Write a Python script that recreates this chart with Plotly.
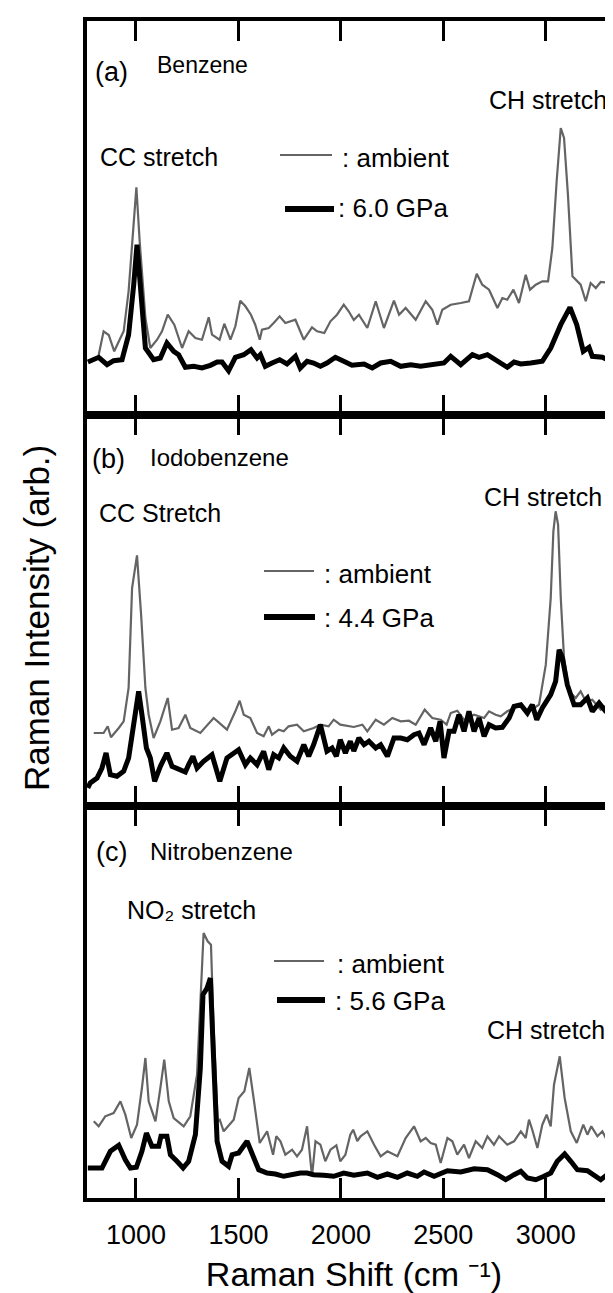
import plotly.graph_objects as go

# ---------------- data (Raman shift in cm^-1, intensity in arb. units) ----------------
benz_amb_x = [818, 842, 867, 894, 924, 940, 964, 989, 1002, 1018, 1046, 1070, 1103, 1127, 1155, 1187,
              1225, 1257, 1290, 1322, 1355, 1371, 1408, 1431, 1461, 1485, 1509, 1534, 1561, 1582, 1604,
              1615, 1648, 1672, 1701, 1729, 1778, 1819, 1859, 1884, 1919, 1949, 1981, 2014, 2038, 2063,
              2088, 2129, 2170, 2210, 2259, 2284, 2316, 2365, 2414, 2446, 2471, 2495, 2536, 2585, 2625,
              2663, 2690, 2723, 2764, 2788, 2812, 2842, 2869, 2902, 2923, 2951, 2983, 3011, 3032, 3053,
              3073, 3089, 3108, 3130, 3170, 3195, 3219, 3244, 3268, 3317, 3349, 3366]
benz_amb_y = [60, 83.7, 80, 63.7, 77, 83.7, 123.7, 190, 227.7, 173.7, 97, 67, 75.3, 83.7, 100.3, 90.3,
              67, 83.7, 77, 75.3, 97.7, 80.3, 75.3, 91.3, 75.3, 88.7, 114.3, 108.7, 100.3, 90.3, 75.3,
              85.3, 87, 92, 98.7, 92, 95.3, 75.3, 87.7, 83.7, 82, 93.7, 100.3, 110.3, 103.7, 95,
              100.3, 87, 113.7, 87, 114.3, 100.3, 107, 95.3, 113.7, 105.3, 90.3, 105.3, 110.3, 112, 113.7,
              141.3, 130.3, 125.3, 107, 117, 115.3, 125.3, 112, 140.3, 125.3, 130.3, 133.7, 133.7, 167, 233.7,
              287, 277, 220.3, 138.7, 130.3, 113.7, 132, 127, 133, 132, 133.7, 137]

benz_hp_x = [765, 818, 859, 891, 932, 964, 989, 1005, 1021, 1046, 1086, 1119, 1151, 1184, 1208, 1241,
             1282, 1322, 1363, 1396, 1420, 1452, 1485, 1526, 1561, 1591, 1607, 1631, 1664, 1701, 1737,
             1778, 1802, 1835, 1867, 1900, 1932, 1973, 2014, 2054, 2113, 2153, 2194, 2243, 2292, 2341,
             2389, 2455, 2503, 2536, 2560, 2585, 2642, 2674, 2715, 2764, 2812, 2845, 2878, 2926, 2983,
             3024, 3073, 3118, 3151, 3183, 3211, 3227, 3276, 3317, 3366]
benz_hp_y = [53, 57.7, 50.3, 54.3, 55.3, 80.3, 130.3, 170.3, 130.3, 67, 55.3, 57, 72, 63.7, 60.3, 47.7,
             48.7, 47, 49.7, 53, 53, 44.3, 57.7, 60.3, 65.3, 57, 60.3, 48.7, 52, 55.3, 51,
             58.7, 47, 53.7, 52, 48.7, 52, 57.7, 53.7, 49.7, 51, 47, 52, 53.7, 48.7, 50.3,
             48.7, 50.3, 52, 58.7, 54.3, 50.3, 60.3, 57.7, 60.3, 53.7, 47.7, 53, 51, 52, 53.7,
             67, 90.3, 107.7, 90.3, 63.7, 67.7, 58.7, 57.7, 53.7, 60.3]

iodo_amb_x = [794, 842, 862, 878, 916, 940, 964, 981, 1005, 1025, 1046, 1062, 1086, 1119, 1155, 1176,
              1208, 1241, 1265, 1314, 1379, 1444, 1485, 1506, 1526, 1558, 1591, 1623, 1648, 1664, 1697,
              1721, 1745, 1786, 1819, 1867, 1900, 1940, 1965, 1997, 2063, 2105, 2129, 2170, 2210, 2251,
              2292, 2332, 2365, 2409, 2446, 2487, 2516, 2536, 2568, 2601, 2650, 2699, 2723, 2755, 2780,
              2812, 2845, 2878, 2910, 2943, 2967, 3000, 3024, 3037, 3048, 3060, 3073, 3089, 3113, 3146,
              3170, 3195, 3227, 3268, 3300, 3333, 3349, 3366]
iodo_amb_y = [73, 73, 79.7, 68.7, 78, 84.7, 118, 218, 250.7, 191.3, 118, 91.3, 68, 84.7, 108, 76.3,
              78, 91.3, 78, 73, 88, 76.3, 94.7, 105.3, 91.3, 88, 73, 69.7, 79.7, 71.3, 76.3,
              74.7, 79.7, 81.3, 74.7, 78, 81.3, 79.7, 86.3, 81.3, 79, 81.3, 74.7, 86.3, 81.3, 88,
              84.7, 85.3, 81.3, 96.3, 88, 86.3, 81.3, 93, 95.3, 86.3, 91.3, 88, 94.7, 91.3, 89.7,
              94.7, 98, 99.7, 94.7, 98, 101.3, 141.3, 208, 274.7, 294.7, 281.3, 208, 148, 114.7, 108,
              114.7, 104.7, 106.3, 96.3, 101.3, 94.7, 111.3, 116.3]

iodo_hp_x = [765, 777, 810, 834, 854, 875, 907, 940, 964, 989, 1013, 1029, 1051, 1070, 1091, 1119, 1151,
             1176, 1208, 1241, 1257, 1278, 1298, 1330, 1371, 1409, 1444, 1501, 1534, 1558, 1591, 1623,
             1648, 1672, 1697, 1721, 1753, 1786, 1819, 1843, 1867, 1900, 1932, 1957, 1978, 1997, 2022,
             2046, 2063, 2088, 2113, 2137, 2170, 2194, 2227, 2259, 2292, 2324, 2357, 2381, 2406, 2438,
             2463, 2484, 2503, 2528, 2552, 2576, 2601, 2625, 2650, 2674, 2699, 2723, 2755, 2788, 2821,
             2845, 2878, 2910, 2934, 2956, 2983, 3024, 3048, 3065, 3081, 3105, 3138, 3170, 3203, 3227,
             3260, 3292, 3325, 3349, 3366]
iodo_hp_y = [18, 23, 28, 38, 53, 31.3, 29.7, 34.7, 48, 81.3, 114.7, 91.3, 58, 48, 24.7, 39.7, 53,
             39.7, 36.3, 34, 41.3, 49.7, 38, 44.7, 51.3, 24.7, 48, 56.3, 41.3, 48, 41.3, 54.7,
             36.3, 51.3, 48, 58, 49.7, 44.7, 61.3, 49.7, 61.3, 81.3, 54.7, 58, 49.7, 66.3, 53,
             64.7, 55, 68, 61.3, 64.7, 58, 61.3, 49.7, 68, 68, 66.3, 71.3, 73, 61.3, 78,
             64.7, 84.7, 48, 74.7, 74.7, 91.3, 74.7, 94.7, 74.7, 88, 69.7, 81.3, 78, 78.7, 88,
             99.7, 101.3, 93, 101.3, 86.3, 98, 111.3, 124.7, 156.3, 148, 121.3, 101.3, 101.3, 108, 94.7,
             103, 94.7, 91.3, 108, 116.3]

nitro_amb_x = [794, 818, 850, 891, 924, 948, 977, 1005, 1029, 1046, 1062, 1095, 1119, 1138, 1160, 1184,
               1233, 1265, 1298, 1317, 1330, 1350, 1366, 1379, 1399, 1409, 1428, 1477, 1501, 1529, 1553,
               1574, 1604, 1640, 1669, 1685, 1705, 1729, 1762, 1786, 1810, 1835, 1859, 1876, 1900, 1924,
               1949, 1978, 1997, 2022, 2046, 2060, 2080, 2096, 2129, 2162, 2194, 2227, 2276, 2316, 2357,
               2389, 2414, 2438, 2463, 2487, 2520, 2544, 2568, 2601, 2625, 2658, 2690, 2715, 2747, 2772,
               2812, 2845, 2878, 2902, 2918, 2934, 2959, 2983, 3004, 3024, 3040, 3068, 3092, 3122, 3151,
               3183, 3203, 3222, 3252, 3276, 3309, 3333, 3357, 3366]
nitro_amb_y = [76.7, 71.7, 81.7, 85, 96.7, 83.3, 60, 73.3, 110, 140, 96.7, 76.7, 110, 138.3, 96.7, 80,
               71.7, 81.7, 123.3, 203.3, 265, 256.7, 253.3, 170, 76.7, 78.3, 66.7, 78.3, 100, 106.7, 130,
               100, 55, 66.7, 43.3, 61.7, 56.7, 43.3, 48.3, 41.7, 48.3, 71.7, 21.7, 56.7, 53.3, 36.7,
               48.3, 52.7, 36.7, 43.3, 63.3, 68.3, 57, 61.7, 66.7, 53.3, 41.7, 46.7, 41.7, 60, 71.7,
               56.7, 60, 55, 53.3, 35, 60, 56.7, 43.3, 53.3, 40, 56.7, 50, 61.7, 53.3, 61.7,
               53.3, 56.7, 66.7, 60, 78.3, 68.3, 50, 73.3, 83.3, 71.7, 113.3, 141.7, 100, 66.7, 55,
               73.3, 63.3, 71.7, 61.7, 66.7, 53.3, 68.3, 71.7, 70]

nitro_hp_x = [765, 834, 875, 916, 948, 973, 1002, 1029, 1051, 1078, 1111, 1122, 1151, 1168, 1200, 1230,
              1257, 1290, 1314, 1327, 1347, 1363, 1376, 1396, 1420, 1452, 1469, 1501, 1542, 1574, 1599,
              1640, 1680, 1721, 1762, 1802, 1835, 1867, 1916, 1965, 2014, 2063, 2129, 2178, 2227, 2276,
              2324, 2373, 2406, 2455, 2520, 2585, 2650, 2715, 2764, 2804, 2845, 2878, 2910, 2951, 2991,
              3024, 3056, 3092, 3122, 3154, 3203, 3235, 3268, 3300, 3333, 3366]
nitro_hp_y = [30, 30, 46.7, 52.7, 38.3, 30, 30.7, 46.7, 65, 51.7, 51.7, 61.7, 61.7, 43.3, 36.7, 30,
              36.7, 63.3, 130, 203.3, 210, 220, 153.3, 56.7, 36.7, 31.7, 43.3, 45, 56.7, 40, 28.3,
              25, 24, 21.7, 24, 25, 25, 23.3, 22.7, 21.7, 25, 22.7, 25, 20.7, 24, 20.7,
              25, 21.7, 26, 21.7, 27.3, 26, 29.3, 28.3, 23.3, 18.3, 23.3, 26.7, 20, 18.3, 21.7,
              25, 36.7, 44, 36.7, 28.3, 27.3, 23.3, 18.3, 23.3, 20.7, 21.7]

tick_vals = [1000, 1500, 2000, 2500, 3000]
tick_text = ["1000", "1500", "2000", "2500", "3000"]

panel_labels = ["(a)", "(b)", "(c)"]
compounds = ["Benzene", "Iodobenzene", "Nitrobenzene"]
pressures = ["6.0 GPa", "4.4 GPa", "5.6 GPa"]

# ---------------- layout geometry ----------------
W, H = 613, 1293
L, R, T, B = 79, 0, 13, 103
plot_h = H - T - B
bottom_px = H - B

def px2x(px):
    return (px - L) / (W - L - R)

def px2y(py):
    return (bottom_px - py) / plot_h

panel_px = [(13, 407), (407, 798), (798, 1190)]
x_range = [761, 3367]

FONT = "Arial, Liberation Sans, Helvetica, sans-serif"
AMB_COLOR = "#646464"
AMB_W = 2.2
HP_W = 5

fig = go.Figure()
series = [
    (benz_amb_x, benz_amb_y, benz_hp_x, benz_hp_y),
    (iodo_amb_x, iodo_amb_y, iodo_hp_x, iodo_hp_y),
    (nitro_amb_x, nitro_amb_y, nitro_hp_x, nitro_hp_y),
]
for i, (ax_, ay_, hx_, hy_) in enumerate(series):
    suffix = "" if i == 0 else str(i + 1)
    fig.add_trace(go.Scatter(x=ax_, y=ay_, mode="lines", name="ambient",
                             line=dict(color=AMB_COLOR, width=AMB_W),
                             xaxis="x" + suffix, yaxis="y" + suffix, showlegend=False))
    fig.add_trace(go.Scatter(x=hx_, y=hy_, mode="lines", name=pressures[i],
                             line=dict(color="black", width=HP_W),
                             xaxis="x" + suffix, yaxis="y" + suffix, showlegend=False))

layout = dict(
    width=W, height=H,
    margin=dict(l=L, r=R, t=T, b=B, pad=0),
    paper_bgcolor="white", plot_bgcolor="white",
    font=dict(family=FONT, color="black"),
    showlegend=False,
)
for i, (ptop, pbot) in enumerate(panel_px):
    suffix = "" if i == 0 else str(i + 1)
    xa = dict(range=x_range, domain=[0, 1], anchor="y" + suffix,
              showline=True, linewidth=3.5, linecolor="black", mirror="allticks",
              ticks="inside", ticklen=20, tickwidth=2.5, tickcolor="black",
              tickvals=tick_vals, ticktext=tick_text,
              showgrid=False, zeroline=False,
              showticklabels=(i == 2),
              tickfont=dict(size=27, family=FONT, color="black"))
    if i == 2:
        xa["title"] = dict(text="Raman Shift (cm \u207b\u00b9)",
                           font=dict(size=34, family=FONT, color="black"), standoff=14)
        xa["ticklabelstandoff"] = 10
    ya = dict(range=[0, pbot - ptop], domain=[px2y(pbot), px2y(ptop)], anchor="x" + suffix,
              showline=True, linewidth=3.5, linecolor="black", mirror=False,
              ticks="", showticklabels=False, showgrid=False, zeroline=False, fixedrange=True)
    layout["xaxis" + suffix] = xa
    layout["yaxis" + suffix] = ya
fig.update_layout(**layout)

annotations = []
def txt(text, px, py, size, anchor="left"):
    annotations.append(dict(text=text, x=px2x(px), y=px2y(py), xref="paper", yref="paper",
                            xanchor=anchor, yanchor="middle", showarrow=False,
                            font=dict(size=size, family=FONT, color="black"),
                            borderpad=0))

# panel titles
txt(panel_labels[0], 86, 64, 27)
txt(compounds[0], 148, 57, 23)
txt(panel_labels[1], 83, 451, 27)
txt(compounds[1], 141, 449, 24)
txt(panel_labels[2], 87, 844, 27)
txt(compounds[2], 141, 843, 24)
# peak labels
txt("CC stretch", 91, 149, 25)
txt("CH stretch", 480, 92, 25)
txt("CC Stretch", 90, 505, 25)
txt("CH stretch", 475, 489, 25)
txt("NO\u2082 stretch", 118, 902, 25)
txt("CH stretch", 478, 1022, 25)
# legend texts
txt(": ambient", 333, 150, 26)
txt(": " + pressures[0], 329, 200, 26)
txt(": ambient", 315, 566, 26)
txt(": " + pressures[1], 315, 610, 26)
txt(": ambient", 328, 956, 26)
txt(": " + pressures[2], 326, 993, 26)
# y axis title
annotations.append(dict(text="Raman Intensity (arb.)", x=px2x(29), y=px2y(610),
                        xref="paper", yref="paper", xanchor="center", yanchor="middle",
                        textangle=-90, showarrow=False,
                        font=dict(size=35, family=FONT, color="black")))

# legend line samples
shapes = []
def sample(x0, x1, py, color, width):
    shapes.append(dict(type="line", xref="paper", yref="paper",
                       x0=px2x(x0), x1=px2x(x1), y0=px2y(py), y1=px2y(py),
                       line=dict(color=color, width=width)))
sample(272, 324, 147, AMB_COLOR, AMB_W)
sample(277, 326, 201, "black", 6)
sample(256, 306, 563, AMB_COLOR, AMB_W)
sample(256, 307, 609, "black", 6)
sample(266, 316, 953, AMB_COLOR, AMB_W)
sample(269, 317, 992, "black", 6)

fig.update_layout(annotations=annotations, shapes=shapes)
fig.write_html("out.html")
